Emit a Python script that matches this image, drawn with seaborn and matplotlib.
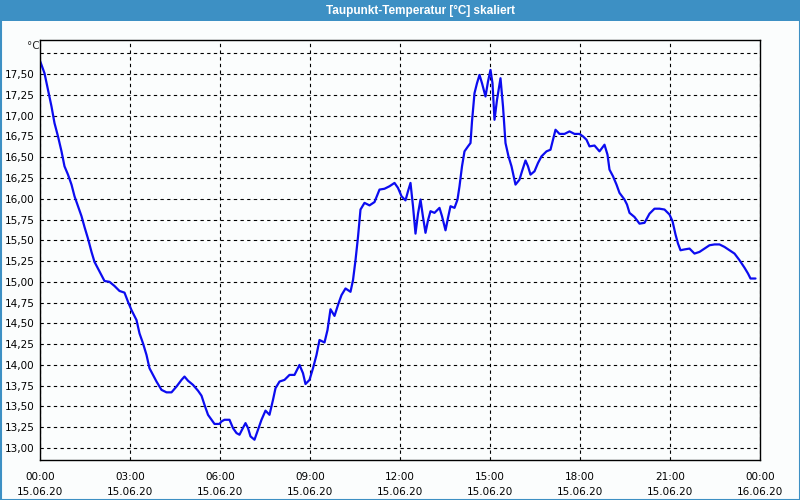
import matplotlib
matplotlib.use("Agg")
import matplotlib.pyplot as plt
from matplotlib.patches import Rectangle
import seaborn as sns
import pandas as pd
import numpy as np

# ---- data (minutes after 15.06.20 00:00, dew point in °C) ----
minutes = [
    0, 9, 16, 23, 29, 36, 43, 49, 56, 63, 69, 76, 83, 89, 96, 103, 109, 116, 123, 129,
    139, 149, 159, 169, 176, 183, 193, 199, 206, 213, 219, 226, 233, 243, 253, 263, 273,
    283, 289, 296, 306, 316, 323, 329, 336, 343, 349, 359,
    363, 369, 379, 386, 393, 399, 404, 411, 416, 421, 429, 436, 443, 451, 459, 466, 471,
    479, 489, 499, 509, 519, 526, 531, 539, 546, 553, 559, 569, 575, 581, 589, 597, 603,
    611, 621, 626, 631, 636, 641, 649, 659, 669, 679, 689, 699, 709,
    716, 723, 731, 736, 741, 746, 751, 756, 761, 766, 771, 776, 781, 789, 799, 804, 811,
    816, 821, 829, 835, 839, 844, 849, 856, 861, 864, 869, 874, 879, 884, 891, 896, 901,
    905, 909, 914, 921, 926, 931, 937, 943, 951, 959, 964, 971, 976, 981, 989, 996, 1003,
    1013, 1021, 1026, 1031, 1039, 1049, 1059, 1069, 1079,
    1086, 1093, 1099, 1109, 1119, 1124, 1129, 1135, 1139, 1146, 1153, 1159, 1169, 1174,
    1179, 1189, 1199, 1209, 1219, 1229, 1239, 1249, 1259, 1265, 1271, 1276, 1281, 1289,
    1299, 1309, 1319, 1329, 1339, 1349, 1359, 1369, 1379, 1389, 1399, 1409, 1416, 1421, 1431,
]
dewpoint = [
    17.66, 17.51, 17.31, 17.11, 16.91, 16.75, 16.57, 16.39, 16.29, 16.17, 16.03, 15.91,
    15.79, 15.66, 15.52, 15.36, 15.24, 15.16, 15.08, 15.01, 15.00, 14.95, 14.89, 14.87,
    14.76, 14.66, 14.54, 14.38, 14.26, 14.12, 13.96, 13.88, 13.80, 13.70, 13.67, 13.67,
    13.74, 13.82, 13.86, 13.81, 13.76, 13.69, 13.63, 13.52, 13.40, 13.34, 13.29, 13.29,
    13.32, 13.34, 13.34, 13.24, 13.18, 13.16, 13.22, 13.30, 13.24, 13.14, 13.10, 13.22,
    13.34, 13.45, 13.40, 13.58, 13.72, 13.80, 13.82, 13.88, 13.88, 14.00, 13.90, 13.77,
    13.82, 13.96, 14.12, 14.30, 14.27, 14.42, 14.67, 14.59, 14.74, 14.84, 14.92, 14.88,
    15.02, 15.26, 15.54, 15.87, 15.95, 15.92, 15.96, 16.11, 16.12, 16.15, 16.19,
    16.13, 16.03, 15.98, 16.09, 16.19, 15.91, 15.58, 15.82, 15.99, 15.78, 15.59, 15.74,
    15.85, 15.83, 15.89, 15.79, 15.62, 15.77, 15.91, 15.89, 15.99, 16.15, 16.39, 16.57,
    16.63, 16.67, 16.93, 17.27, 17.39, 17.49, 17.39, 17.23, 17.41, 17.55, 17.39, 16.95,
    17.19, 17.45, 17.11, 16.67, 16.51, 16.39, 16.17, 16.23, 16.33, 16.46, 16.39, 16.29,
    16.33, 16.43, 16.51, 16.57, 16.59, 16.71, 16.83, 16.78, 16.78, 16.81, 16.78, 16.78,
    16.75, 16.71, 16.63, 16.64, 16.57, 16.61, 16.65, 16.53, 16.35, 16.27, 16.17, 16.07,
    15.99, 15.93, 15.83, 15.78, 15.70, 15.71, 15.82, 15.88, 15.88, 15.87, 15.81, 15.73,
    15.57, 15.46, 15.38, 15.39, 15.40, 15.34, 15.36, 15.40, 15.44, 15.45, 15.45, 15.42,
    15.38, 15.34, 15.26, 15.17, 15.10, 15.04, 15.04,
]

y_ticks = [13.00, 13.25, 13.50, 13.75, 14.00, 14.25, 14.50, 14.75, 15.00, 15.25,
           15.50, 15.75, 16.00, 16.25, 16.50, 16.75, 17.00, 17.25, 17.50, 17.75]
x_major_hours = [0, 3, 6, 9, 12, 15, 18, 21, 24]
x_labels = ["00:00\n15.06.20", "03:00\n15.06.20", "06:00\n15.06.20", "09:00\n15.06.20",
            "12:00\n15.06.20", "15:00\n15.06.20", "18:00\n15.06.20", "21:00\n15.06.20",
            "00:00\n16.06.20"]
title = "Taupunkt-Temperatur [°C] skaliert"
unit = "°C"

df = pd.DataFrame({"hours": np.array(minutes) / 60.0, "value": dewpoint})

sns.set_style("white")
plt.rcParams["font.family"] = ["DejaVu Sans"]

bg = "#fbfdfd"
blue_bar = "#3d90c4"

fig = plt.figure(figsize=(8, 5), dpi=100, facecolor=bg)
ax = fig.add_axes([40 / 800, 1 - 460 / 500, 720 / 800, 420 / 500])
ax.set_facecolor(bg)

sns.lineplot(data=df, x="hours", y="value", ax=ax, color="#0c0cf0", linewidth=1.6,
             estimator=None, sort=False)

ax.set_xlim(0, 24)
ax.set_ylim(12.856, 17.91)

# y ticks: grid at every 0.25, label all but the top one
ax.set_yticks(y_ticks)
ax.set_yticklabels([("%.2f" % v).replace(".", ",") if v < 17.7 else "" for v in y_ticks])
ax.tick_params(axis="y", length=0, pad=4, labelsize=7.5, colors="#000000")

ax.set_xticks(x_major_hours)
ax.set_xticklabels(x_labels, linespacing=1.55)
ax.set_xticks(list(range(0, 25)), minor=True)
ax.tick_params(axis="x", which="both", direction="out", length=4, width=0.8,
               labelsize=7.5, pad=5, colors="#000000")

ax.grid(True, which="major", color="#000000", linestyle=(0, (3, 3)), linewidth=0.8)
ax.set_axisbelow(True)
for s in ax.spines.values():
    s.set_visible(True)
    s.set_color("#000000")
    s.set_linewidth(1.0)
ax.set_xlabel("")
ax.set_ylabel("")

# unit label
fig.text(27 / 800, 1 - 46 / 500, unit, fontsize=7.5, ha="left", va="center")

# title bar
fig.patches.append(Rectangle((0, 1 - 21 / 500), 1, 21 / 500, transform=fig.transFigure,
                             facecolor=blue_bar, edgecolor="none", zorder=0))
fig.text(420 / 800, 1 - 10.5 / 500, title, color="white", fontsize=8.5, fontweight="bold",
         family=["Liberation Sans", "DejaVu Sans"], ha="center", va="center")
# outer border
fig.patches.append(Rectangle((0.5 / 800, 0.5 / 500), 799 / 800, 499 / 500,
                             transform=fig.transFigure, facecolor="none",
                             edgecolor=blue_bar, linewidth=1.5, zorder=5))

fig.savefig("out.png", dpi=100, facecolor=bg)
